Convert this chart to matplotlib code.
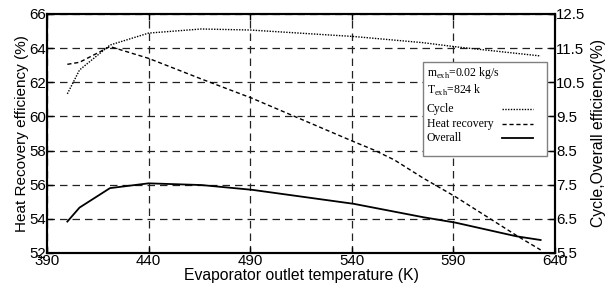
import matplotlib.pyplot as plt
from matplotlib.lines import Line2D
from matplotlib.patches import Rectangle

plt.rcParams['font.family'] = 'Liberation Sans'
plt.rcParams['mathtext.fontset'] = 'custom'
plt.rcParams['mathtext.rm'] = 'Liberation Serif'

# Dados
temp_cycle = [400, 406, 421, 440, 466, 490, 541, 575, 591, 633]
cycle = [10.16, 10.86, 11.59, 11.94, 12.06, 12.03, 11.84, 11.66, 11.54, 11.27]

temp_hr = [400, 406, 421, 440, 466, 491, 541, 551, 561, 575, 591, 622, 633]
heat_recovery = [63.05, 63.17, 64.09, 63.40, 62.19, 61.06, 58.52, 58.03, 57.45, 56.40, 55.30, 52.96, 52.18]

temp_overall = [400, 406, 421, 440, 466, 491, 541, 575, 591, 621, 633]
overall = [6.42, 6.83, 7.40, 7.54, 7.49, 7.35, 6.94, 6.55, 6.39, 5.99, 5.88]

x_ticks = [390, 440, 490, 540, 590, 640]
y_ticks = [52, 54, 56, 58, 60, 62, 64, 66]
y2_ticks = [5.5, 6.5, 7.5, 8.5, 9.5, 10.5, 11.5, 12.5]

labels_legenda = [r'm$_{\rm exh}$=0.02 kg/s', r'T$_{\rm exh}$=824 k', 'Cycle', 'Heat recovery', 'Overall']

ESTILO_CYCLE = dict(color='black', linewidth=1.0, linestyle=(0, (1, 1)))
ESTILO_HR = dict(color='black', linewidth=1.0, linestyle=(0, (3, 2)))
ESTILO_OVERALL = dict(color='black', linewidth=1.3)

fig = plt.figure(figsize=(6.06, 2.91), dpi=100)
ax = fig.add_axes([0.0776, 0.1306, 0.838, 0.8214])
ax2 = ax.twinx()

ax.plot(temp_hr, heat_recovery, **ESTILO_HR)
ax2.plot(temp_cycle, cycle, **ESTILO_CYCLE)
ax2.plot(temp_overall, overall, **ESTILO_OVERALL)

ax.set_xlim(390, 640)
ax.set_ylim(52, 66)
ax2.set_ylim(5.5, 12.5)
ax.set_xticks(x_ticks)
ax.set_yticks(y_ticks)
ax2.set_yticks(y2_ticks)
ax2.set_yticklabels([f'{v:.1f}' for v in y2_ticks])

ax.grid(True, color='#222222', linestyle=(0, (6, 4)), linewidth=0.9)
ax.set_axisbelow(True)

for a in (ax, ax2):
    for s in a.spines.values():
        s.set_linewidth(1.5)
    a.tick_params(direction='in', labelsize=10.8, length=4, width=1, pad=1)
ax.tick_params(top=True)

ax.set_xlabel('Evaporator outlet temperature (K)', fontsize=11.3, labelpad=0)
ax.set_ylabel('Heat Recovery efficiency (%)', fontsize=11, labelpad=0)
ax2.set_ylabel('Cycle,Overall efficiency(%)', fontsize=11.3, labelpad=4)

# Legenda montada à mão (texto à esquerda, amostras à direita)
ax2.add_patch(Rectangle((0.740, 0.406), 0.244, 0.393, transform=ax2.transAxes,
                        facecolor='white', edgecolor='gray', linewidth=1.0, zorder=5))
ys = [0.752, 0.680, 0.603, 0.538, 0.481]
estilos = [None, None, ESTILO_CYCLE, ESTILO_HR, ESTILO_OVERALL]
for y, lab, est in zip(ys, labels_legenda, estilos):
    ax2.text(0.748, y, lab, transform=ax2.transAxes, ha='left', va='center',
             family='Liberation Serif', fontsize=8.5, zorder=6)
    if est is not None:
        ax2.add_line(Line2D([0.896, 0.957], [y, y], transform=ax2.transAxes, zorder=6, **est))

plt.savefig('out.png', dpi=100)
